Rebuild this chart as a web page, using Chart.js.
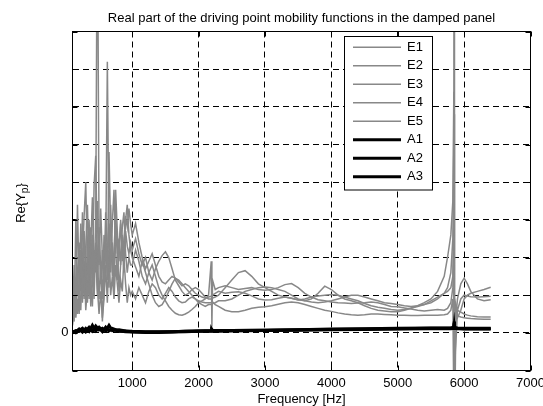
<!DOCTYPE html>
<html><head><meta charset="utf-8">
<script src="https://cdn.jsdelivr.net/npm/chart.js@4/dist/chart.umd.min.js"></script>
<style>html,body{margin:0;padding:0;background:#fff;overflow:hidden}canvas{display:block}</style>
</head><body>
<canvas id="c" width="543" height="406"></canvas>
<script>
const titleText = "Real part of the driving point mobility functions in the damped panel";
const xLabel = "Frequency [Hz]";
const xTicks = [1000,2000,3000,4000,5000,6000,7000];
const yTicks = [-1,0,1,2,3,4,5,6,7,8];
const yTickLabels = {0: "0"};
const seriesNames = ["E1","E2","E3","E4","E5","A1","A2","A3"];

const freq = [
 100,125,150,175,200,225,250,275,300,325,350,375,400,425,450,475,500,525,550,575,600,625,650,675,700,725,750,775,800,825,850,875,900,925,950,975,
 1000,1050,1100,1150,1200,1250,1300,1350,1400,1450,1500,1550,1600,1650,1700,1750,1800,1850,1900,1950,2000,2050,2100,2150,
 2190,2200,2210,2250,2300,
 2400,2500,2600,2700,2800,2900,3000,3100,3200,3300,3400,3500,3600,3700,3800,3900,4000,4100,4200,4300,4400,4500,4600,4700,4800,4900,5000,5100,5200,5300,5400,5500,5600,5700,
 5750,5800,5830,5845,5850,5855,5870,5900,5950,6000,6050,6100,6200,6300,6400
];
const E1 = [
 0.3,0.9,0.5,1.6,0.7,2.2,1.0,2.7,1.5,0.8,2.0,1.2,2.6,1.4,3.0,12.0,2.5,1.3,2.2,1.0,2.4,1.6,2.9,1.9,2.4,1.5,2.8,2.1,2.5,1.8,2.6,2.0,2.7,2.3,2.1,2.4,
 2.2,2.5,2.1,1.8,2.0,1.6,1.4,1.7,1.9,2.05,2.15,2.0,1.7,1.4,1.25,1.1,1.0,1.05,1.15,1.2,1.15,1.05,0.95,0.9,
 0.9,0.9,0.92,0.95,1.0,
 1.2,1.4,1.6,1.65,1.5,1.3,1.2,1.1,1.0,0.95,0.92,0.88,0.85,0.82,0.8,0.82,0.85,0.9,0.95,1.0,1.0,0.95,0.9,0.85,0.8,0.78,0.75,0.72,0.7,0.72,0.75,0.8,0.9,1.05,
 1.2,1.6,2.5,5.0,20.0,-4.0,0.3,0.9,1.3,1.45,1.3,1.1,0.9,0.85,0.88
];
const E2 = [
 0.5,1.8,0.8,3.4,1.2,0.6,1.9,3.1,4.0,1.7,0.9,2.3,3.6,1.5,2.1,1.0,2.8,1.7,0.9,2.6,2.0,7.2,2.4,1.6,2.9,3.8,2.2,1.4,2.3,2.9,1.9,2.5,3.0,3.4,2.6,2.2,
 2.0,1.75,1.5,1.9,1.6,1.3,1.0,0.8,0.7,0.75,0.9,1.1,1.3,1.45,1.4,1.3,1.2,1.1,1.0,0.9,0.8,0.75,0.7,0.75,
 0.75,0.76,0.78,0.8,0.85,
 0.85,0.9,1.0,1.1,1.15,1.2,1.22,1.2,1.15,1.1,1.0,0.9,0.85,0.9,1.05,1.24,1.15,1.0,0.9,0.85,0.8,0.72,0.65,0.6,0.58,0.56,0.56,0.6,0.65,0.72,0.8,0.9,1.1,1.5,
 2.0,2.6,3.5,6.4,-3.0,-2.0,0.5,0.4,0.6,0.9,1.0,1.05,1.1,1.15,1.21
];
const E3 = [
 0.2,0.6,1.4,0.5,1.1,2.9,1.7,0.9,2.3,3.4,1.6,2.8,1.3,3.9,4.7,2.0,0.9,1.9,0.3,1.2,2.5,1.4,4.8,2.7,1.5,2.2,3.1,2.4,1.1,1.8,2.8,3.2,2.1,1.6,2.0,1.8,
 1.8,2.2,1.9,1.5,1.3,1.6,1.8,1.5,1.2,1.0,0.85,0.7,0.6,0.52,0.48,0.47,0.5,0.55,0.62,0.7,0.8,0.85,0.9,1.0,
 1.9,0.16,1.4,1.15,1.2,
 1.25,1.2,1.15,1.18,1.2,1.15,1.13,1.15,1.2,1.28,1.31,1.2,1.05,0.95,0.88,0.85,0.82,0.8,0.79,0.78,0.79,0.8,0.82,0.8,0.75,0.7,0.69,0.66,0.63,0.6,0.58,0.6,0.62,0.6,
 0.65,0.8,1.2,2.5,5.8,-3.0,-0.5,0.6,0.55,0.5,0.47,0.45,0.43,0.42,0.42
];
const E4 = [
 0.6,0.3,3.0,1.0,2.4,1.3,3.2,1.8,1.0,2.4,3.0,1.1,0.7,2.2,1.6,3.5,1.8,3.3,2.0,1.4,3.2,2.1,1.2,3.4,2.0,1.2,3.8,2.7,1.9,3.0,2.3,1.6,3.1,2.8,3.3,2.9,
 2.6,2.9,2.4,2.0,1.7,1.9,2.1,1.8,1.5,1.35,1.3,1.4,1.5,1.45,1.35,1.25,1.3,1.25,1.15,1.05,1.0,0.95,0.92,0.95,
 0.97,0.98,1.0,1.05,1.1,
 1.05,1.08,1.09,1.05,0.98,0.9,0.87,0.88,0.92,0.95,0.92,0.87,0.9,0.95,0.98,1.0,1.02,1.0,0.95,0.9,0.85,0.78,0.72,0.68,0.65,0.62,0.6,0.62,0.66,0.7,0.75,0.85,0.95,1.05,
 1.1,1.2,1.5,3.0,-5.0,-3.0,0.3,0.45,0.42,0.4,0.39,0.38,0.37,0.36,0.36
];
const E5 = [
 0.4,1.3,0.4,0.9,0.5,1.5,0.8,1.9,0.6,1.2,2.1,0.7,1.6,0.9,2.4,1.2,0.5,1.1,0.4,0.9,1.8,0.8,2.2,1.0,1.5,0.9,1.8,1.3,0.8,1.4,1.1,2.0,1.3,0.8,1.2,1.0,
 1.1,0.9,1.2,1.0,0.8,1.1,1.3,1.2,1.0,0.9,1.05,1.2,1.1,0.95,0.85,0.8,0.82,0.9,0.95,0.9,0.85,0.82,0.8,0.8,
 0.8,0.8,0.82,0.75,0.7,
 0.6,0.56,0.56,0.6,0.65,0.68,0.69,0.72,0.76,0.8,0.82,0.8,0.75,0.7,0.65,0.6,0.57,0.53,0.5,0.48,0.47,0.48,0.5,0.5,0.49,0.48,0.47,0.47,0.46,0.46,0.47,0.47,0.47,0.48,
 0.5,0.6,0.9,-2.0,-6.0,-1.0,0.8,0.6,0.9,1.0,0.98,0.96,0.95,0.96,0.97
];
const freqA = [100,150,200,250,300,350,400,450,500,550,600,650,700,800,900,1000,1200,1400,1600,1800,2000,2190,2200,2210,2500,3000,3500,4000,4500,5000,5500,5800,5845,5850,5855,5900,6000,6400];
const A1 = [0.02,0.06,0.04,0.1,0.05,0.15,0.05,0.18,0.08,0.12,0.05,0.2,0.06,0.08,0.05,0.04,0.03,0.03,0.03,0.04,0.05,0.06,0.09,0.06,0.06,0.07,0.08,0.1,0.11,0.12,0.13,0.13,0.15,0.3,0.14,0.13,0.12,0.12];
const A2 = [0.0,0.03,0.1,0.02,0.12,0.04,0.2,0.05,0.12,0.03,0.15,0.05,0.1,0.04,0.05,0.03,0.02,0.02,0.03,0.04,0.05,0.05,0.07,0.05,0.06,0.07,0.08,0.09,0.1,0.11,0.12,0.12,0.14,0.25,0.13,0.12,0.11,0.11];
const A3 = [0.04,0.0,0.06,0.12,0.02,0.08,0.04,0.1,0.15,0.06,0.1,0.06,0.12,0.05,0.03,0.02,0.01,0.01,0.02,0.03,0.04,0.04,0.06,0.04,0.05,0.06,0.07,0.08,0.09,0.1,0.11,0.11,0.12,0.2,0.12,0.11,0.1,0.1];

const FONT = '"Liberation Sans", Arial, sans-serif';
const GRAY = '#888888';
const toPts = (xs, ys) => xs.map((x, i) => ({x, y: ys[i]}));
const eSeries = [E1, E2, E3, E4, E5];
const aSeries = [A1, A2, A3];
const datasets = [];
eSeries.forEach((s, i) => datasets.push({label: seriesNames[i], data: toPts(freq, s), borderColor: GRAY, borderWidth: 1.5, order: 1}));
aSeries.forEach((s, i) => datasets.push({label: seriesNames[5 + i], data: toPts(freqA, s), borderColor: '#000000', borderWidth: 3, order: 0}));

const decor = {
  id: 'decor',
  afterDatasetsDraw(chart) {
    const {ctx, chartArea: a, scales: {x, y}} = chart;
    ctx.save();
    ctx.setLineDash([]);
    ctx.strokeStyle = '#000'; ctx.lineWidth = 1;
    ctx.strokeRect(a.left, a.top, a.right - a.left, a.bottom - a.top);
    const tl = 5;
    ctx.beginPath();
    xTicks.forEach(v => {
      const px = Math.round(x.getPixelForValue(v)) + 0.5;
      ctx.moveTo(px, a.bottom); ctx.lineTo(px, a.bottom - tl);
      ctx.moveTo(px, a.top); ctx.lineTo(px, a.top + tl);
    });
    yTicks.forEach(v => {
      const py = Math.round(y.getPixelForValue(v)) + 0.5;
      ctx.moveTo(a.left, py); ctx.lineTo(a.left + tl, py);
      ctx.moveTo(a.right, py); ctx.lineTo(a.right - tl, py);
    });
    ctx.stroke();
    // legend
    const lx = 344.5, ly = 36.5, lw = 88, lh = 153.5;
    ctx.fillStyle = '#fff'; ctx.fillRect(lx, ly, lw, lh);
    ctx.strokeStyle = '#000'; ctx.lineWidth = 1; ctx.strokeRect(lx, ly, lw, lh);
    ctx.font = '13px ' + FONT; ctx.textBaseline = 'middle'; ctx.textAlign = 'left';
    chart.data.datasets.forEach((ds, i) => {
      const yy = 47.3 + i * 18.5;
      ctx.strokeStyle = ds.borderColor; ctx.lineWidth = ds.borderWidth;
      ctx.beginPath(); ctx.moveTo(353, yy); ctx.lineTo(401, yy); ctx.stroke();
      ctx.fillStyle = '#000'; ctx.fillText(ds.label, 407, yy);
    });
    ctx.restore();
  },
  afterDraw(chart) {
    const {ctx, chartArea: a} = chart;
    const cx = (a.left + a.right) / 2, cy = (a.top + a.bottom) / 2;
    ctx.save();
    ctx.fillStyle = '#000';
    ctx.font = '13px ' + FONT; ctx.textAlign = 'center'; ctx.textBaseline = 'middle';
    ctx.fillText(titleText, cx, 18);
    ctx.fillText(xLabel, cx, 399);
    // y label with subscript
    ctx.translate(20, cy + 2);
    ctx.rotate(-Math.PI / 2);
    ctx.textAlign = 'left'; ctx.textBaseline = 'alphabetic';
    const f1 = '13px ' + FONT, f2 = '10px ' + FONT;
    ctx.font = f1; const w1 = ctx.measureText('Re{Y').width; const w3 = ctx.measureText('}').width;
    ctx.font = f2; const w2 = ctx.measureText('p').width;
    let sx = -(w1 + w2 + w3) / 2;
    ctx.font = f1; ctx.fillText('Re{Y', sx, 4.5);
    ctx.font = f2; ctx.fillText('p', sx + w1, 8);
    ctx.font = f1; ctx.fillText('}', sx + w1 + w2, 4.5);
    ctx.restore();
  }
};

const gridOpts = {color: '#000', lineWidth: 1, drawTicks: false};
new Chart(document.getElementById('c'), {
  type: 'line',
  data: {datasets},
  options: {
    responsive: false, animation: false, devicePixelRatio: 1,
    layout: {padding: {left: 0, top: 31.5, right: 12.5, bottom: 0}},
    plugins: {legend: {display: false}, tooltip: {enabled: false}, title: {display: false}},
    elements: {point: {radius: 0}, line: {tension: 0}},
    scales: {
      x: {
        type: 'linear', min: 100, max: 7000,
        afterBuildTicks: s => { s.ticks = xTicks.map(v => ({value: v})); },
        afterFit: s => { s.height = 35.5; s.paddingLeft = 0; s.paddingRight = 0; },
        grid: gridOpts,
        border: {display: false, dash: [6, 4]},
        ticks: {color: '#000', font: {family: FONT, size: 13}, padding: 5, maxRotation: 0, autoSkip: false, callback: v => String(v)}
      },
      y: {
        type: 'linear', min: -1, max: 8,
        afterBuildTicks: s => { s.ticks = yTicks.map(v => ({value: v})); },
        afterFit: s => { s.width = 72.5; s.paddingTop = 0; s.paddingBottom = 0; },
        grid: gridOpts,
        border: {display: false, dash: [6, 4]},
        ticks: {color: '#000', font: {family: FONT, size: 13}, padding: 4, autoSkip: false, callback: v => (yTickLabels[v] !== undefined ? yTickLabels[v] : '')}
      }
    }
  },
  plugins: [decor]
});
</script>
</body></html>
